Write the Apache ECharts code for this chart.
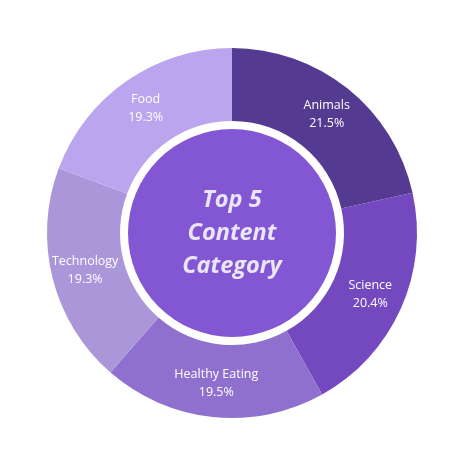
<!DOCTYPE html>
<html><head><meta charset="utf-8">
<script src="https://cdn.jsdelivr.net/npm/echarts@6/dist/echarts.min.js"></script>
<style>html,body{margin:0;padding:0;background:#fff}#c{width:468px;height:460px}</style>
</head><body><div id="c"></div>
<script>
const categories = ['Animals', 'Science', 'Healthy Eating', 'Technology', 'Food'];
const values = [21.5, 20.4, 19.5, 19.3, 19.3];
const colors = ['#553a91', '#7449bf', '#9070cf', '#ab96da', '#bba5ef'];
const centerTitle = 'Top 5\nContent\nCategory';

const chart = echarts.init(document.getElementById('c'));
chart.setOption({
  animation: false,
  series: [
    {
      type: 'pie',
      center: [232, 233],
      radius: [112, 185],
      startAngle: 90,
      clockwise: true,
      silent: true,
      data: categories.map((c, i) => ({ name: c, value: values[i], itemStyle: { color: colors[i] } })),
      label: {
        position: 'inside',
        formatter: p => p.name + '\n' + p.value.toFixed(1) + '%',
        color: '#ffffff',
        fontFamily: 'Open Sans',
        fontSize: 12.5,
        lineHeight: 18
      },
      labelLine: { show: false }
    },
    {
      type: 'pie',
      center: [232, 233],
      radius: [0, 104],
      silent: true,
      data: [{ name: centerTitle, value: 1, itemStyle: { color: '#8357d4' } }],
      label: {
        position: 'center',
        formatter: centerTitle,
        color: '#ebe6f7',
        fontFamily: 'Open Sans',
        fontWeight: 'bold',
        fontStyle: 'italic',
        fontSize: 23.5,
        lineHeight: 33
      },
      labelLine: { show: false }
    }
  ]
});
</script></body></html>
